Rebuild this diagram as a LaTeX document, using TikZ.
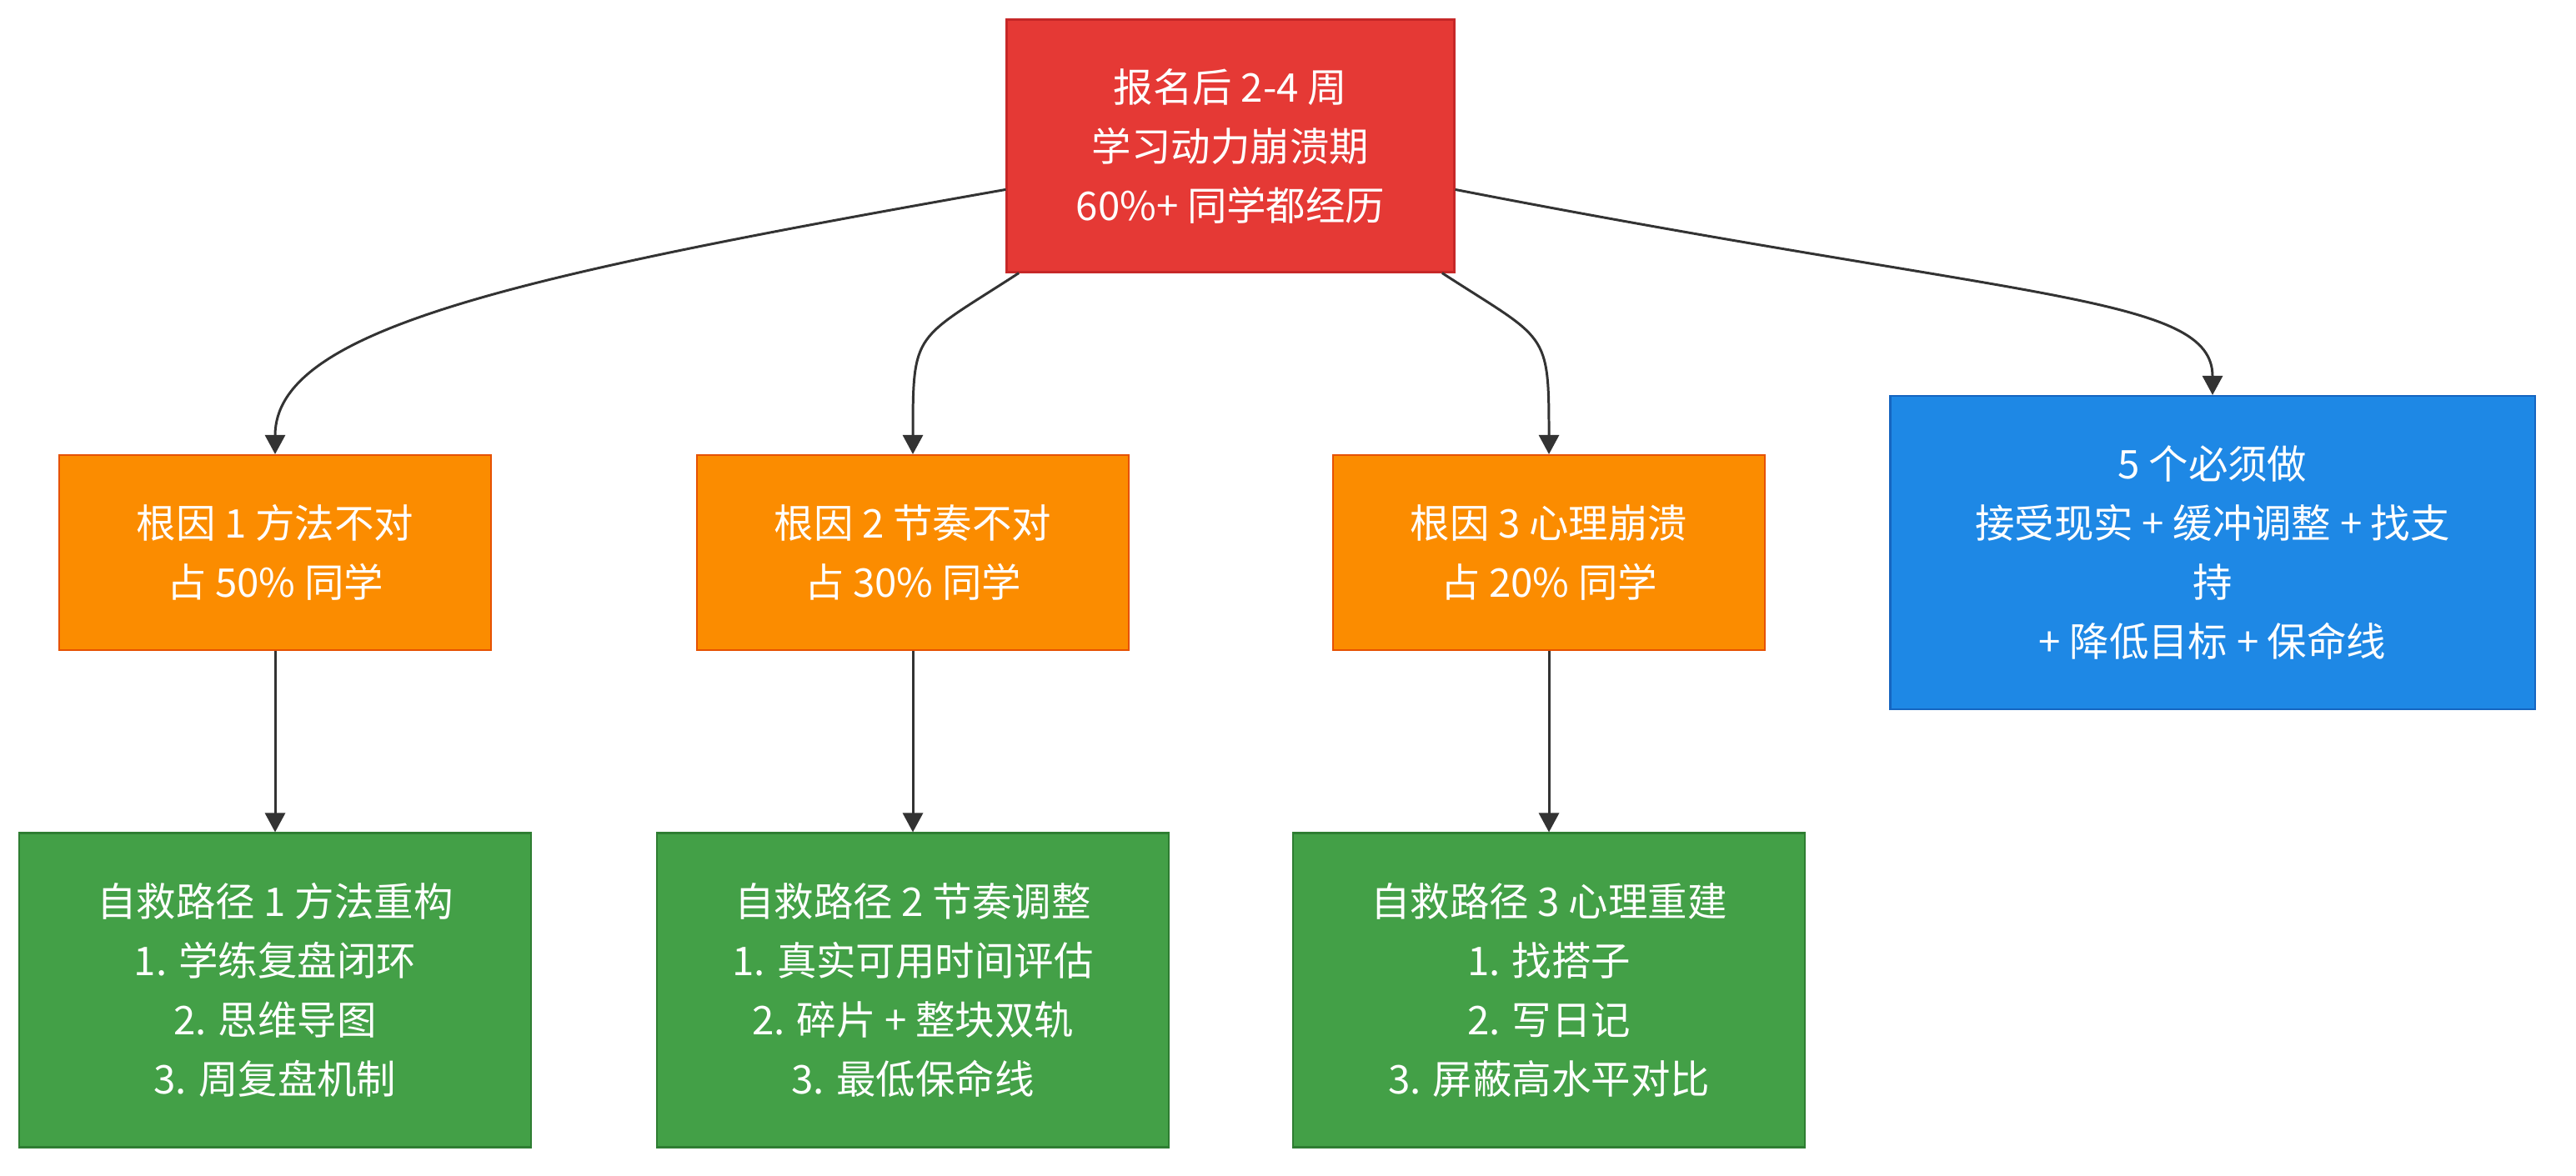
\documentclass[tikz,border=0pt]{standalone}
\usepackage{fontspec}
\setmainfont{Noto Sans CJK SC}
\usetikzlibrary{arrows.meta}

\definecolor{crashred}{HTML}{E53935}
\definecolor{crashline}{HTML}{C62828}
\definecolor{causeorange}{HTML}{FB8C00}
\definecolor{causeline}{HTML}{E65100}
\definecolor{fixgreen}{HTML}{43A047}
\definecolor{fixline}{HTML}{2E7D32}
\definecolor{mustblue}{HTML}{1E88E5}
\definecolor{mustline}{HTML}{1565C0}
\definecolor{linkgray}{HTML}{333333}

\tikzset{
    box/.style={draw, line width=0.6pt, text=white, align=center, inner sep=0pt,
        font=\fontsize{13.5pt}{20.2pt}\selectfont},
    crashbox/.style={box, fill=crashred, draw=crashline, minimum width=5.37cm, minimum height=3.03cm},
    causebox/.style={box, fill=causeorange, draw=causeline, minimum width=5.18cm, minimum height=2.34cm},
    fixbox/.style={box, fill=fixgreen, draw=fixline, minimum width=6.14cm, minimum height=3.77cm},
    mustbox/.style={box, fill=mustblue, draw=mustline, minimum width=7.73cm, minimum height=3.76cm},
    link/.style={draw=linkgray, line width=0.85pt, -{Triangle[length=2.3mm, width=2.4mm]}}
}

\begin{document}
\begin{tikzpicture}
    % page size of the reference
    \useasboundingbox (0,0) rectangle (30.9,-14.1);

    % crash period at the top
    \node[crashbox] (crash) at (14.76,-1.75) {报名后 2-4 周\\学习动力崩溃期\\60\%+ 同学都经历};

    % three root causes
    \node[causebox] (cause1) at (3.30,-6.63) {根因 1 方法不对\\占 50\% 同学};
    \node[causebox] (cause2) at (10.95,-6.63) {根因 2 节奏不对\\占 30\% 同学};
    \node[causebox] (cause3) at (18.58,-6.63) {根因 3 心理崩溃\\占 20\% 同学};

    % five must-dos on the right
    \node[mustbox] (must) at (26.54,-6.63) {5 个必须做\\接受现实 + 缓冲调整 + 找支\\持\\+ 降低目标 + 保命线};

    % self-rescue paths
    \node[fixbox] (fix1) at (3.30,-11.88) {自救路径 1 方法重构\\1. 学练复盘闭环\\2. 思维导图\\3. 周复盘机制};
    \node[fixbox] (fix2) at (10.95,-11.88) {自救路径 2 节奏调整\\1. 真实可用时间评估\\2. 碎片 + 整块双轨\\3. 最低保命线};
    \node[fixbox] (fix3) at (18.58,-11.88) {自救路径 3 心理重建\\1. 找搭子\\2. 写日记\\3. 屏蔽高水平对比};

    % curved links out of the crash box
    \draw[link] (crash.191) .. controls +(190:6) and +(90:1.5) .. (cause1.north);
    \draw[link] (crash.211) .. controls +(213:1.5) and +(90:1.5) .. (cause2.north);
    \draw[link] (crash.-31) .. controls +(-33:1.5) and +(90:1.5) .. (cause3.north);
    \draw[link] (crash.-11) .. controls +(-11:7) and +(90:1.2) .. (must.north);

    % straight links down to the fixes
    \foreach \i in {1,2,3}
        \draw[link] (cause\i.south) -- (fix\i.north);
\end{tikzpicture}
\end{document}
